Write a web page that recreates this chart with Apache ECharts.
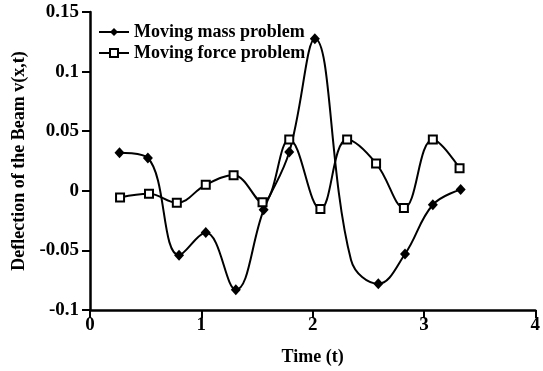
<!DOCTYPE html>
<html><head><meta charset="utf-8">
<script src="https://cdn.jsdelivr.net/npm/echarts@6/dist/echarts.min.js"></script>
<style>html,body{margin:0;padding:0;background:#fff}#c{width:543px;height:371px}</style>
</head><body><div id="c"></div>
<script>
var massTime = [0.265, 0.52, 0.80, 1.04, 1.31, 1.56, 1.79, 2.02, 2.345, 2.59, 2.83, 3.08, 3.33];
var massValues = [0.032, 0.0275, -0.054, -0.035, -0.083, -0.016, 0.0325, 0.1275, -0.058, -0.078, -0.053, -0.0117, 0.001];
var massHiddenMarker = [8];
var forceTime = [0.27, 0.53, 0.78, 1.04, 1.29, 1.55, 1.79, 2.07, 2.31, 2.57, 2.82, 3.08, 3.32];
var forceValues = [-0.0056, -0.0025, -0.01, 0.005, 0.013, -0.0097, 0.043, -0.0153, 0.043, 0.023, -0.0144, 0.043, 0.019];
var yTickLabels = ['-0.1', '-0.05', '0', '0.05', '0.1', '0.15'];
var xTickLabels = ['0', '1', '2', '3', '4'];
var seriesNames = ['Moving mass problem', 'Moving force problem'];

var font = 'Liberation Serif';
var massData = massTime.map(function (t, i) {
  var d = { value: [t, massValues[i]] };
  if (massHiddenMarker.indexOf(i) >= 0) d.symbol = 'none';
  return d;
});
var forceData = forceTime.map(function (t, i) { return [t, forceValues[i]]; });

var chart = echarts.init(document.getElementById('c'), null, { renderer: 'canvas' });
chart.setOption({
  animation: false,
  backgroundColor: '#fff',
  grid: { left: 90, right: 1, top: 12, bottom: 60, containLabel: false },
  legend: {
    orient: 'vertical', left: 93, top: 18, itemWidth: 30, itemHeight: 10, itemGap: 3,
    textStyle: { fontFamily: font, fontSize: 18, fontWeight: 'bold', color: '#000', lineHeight: 18 },
    data: seriesNames
  },
  xAxis: {
    type: 'value', min: 0, max: 4, interval: 1,
    name: 'Time (t)', nameLocation: 'middle', nameGap: 38,
    nameTextStyle: { fontFamily: font, fontSize: 18, fontWeight: 'bold', color: '#000' },
    axisLine: { onZero: false, lineStyle: { color: '#000', width: 2.5 } },
    axisTick: { show: true, length: 8, lineStyle: { color: '#000', width: 2 } },
    axisLabel: { margin: 6, fontFamily: font, fontSize: 19, fontWeight: 'bold', color: '#000',
      formatter: function (v) { return xTickLabels[Math.round(v)]; } },
    splitLine: { show: false }
  },
  yAxis: {
    type: 'value', min: -0.1, max: 0.15, interval: 0.05,
    name: 'Deflection of the Beam v(x,t)', nameLocation: 'middle', nameGap: 60, nameRotate: 90,
    nameTextStyle: { fontFamily: font, fontSize: 18, fontWeight: 'bold', color: '#000' },
    axisLine: { show: true, onZero: false, lineStyle: { color: '#000', width: 2.5 } },
    axisTick: { show: true, length: 8, lineStyle: { color: '#000', width: 2 } },
    axisLabel: { margin: 11, fontFamily: font, fontSize: 19, fontWeight: 'bold', color: '#000',
      formatter: function (v) { return yTickLabels[Math.round((v + 0.1) / 0.05)]; } },
    splitLine: { show: false }
  },
  series: [
    {
      name: seriesNames[0], type: 'line', data: massData, smooth: 0.4,
      symbol: 'diamond', symbolSize: [10, 11], showAllSymbol: true,
      lineStyle: { color: '#000', width: 2 },
      itemStyle: { color: '#000', borderColor: '#000', borderWidth: 0 }
    },
    {
      name: seriesNames[1], type: 'line', data: forceData, smooth: 0.4,
      symbol: 'rect', symbolSize: 8, showAllSymbol: true,
      lineStyle: { color: '#000', width: 2 },
      itemStyle: { color: '#fff', borderColor: '#000', borderWidth: 2 }
    }
  ]
});
</script></body></html>
